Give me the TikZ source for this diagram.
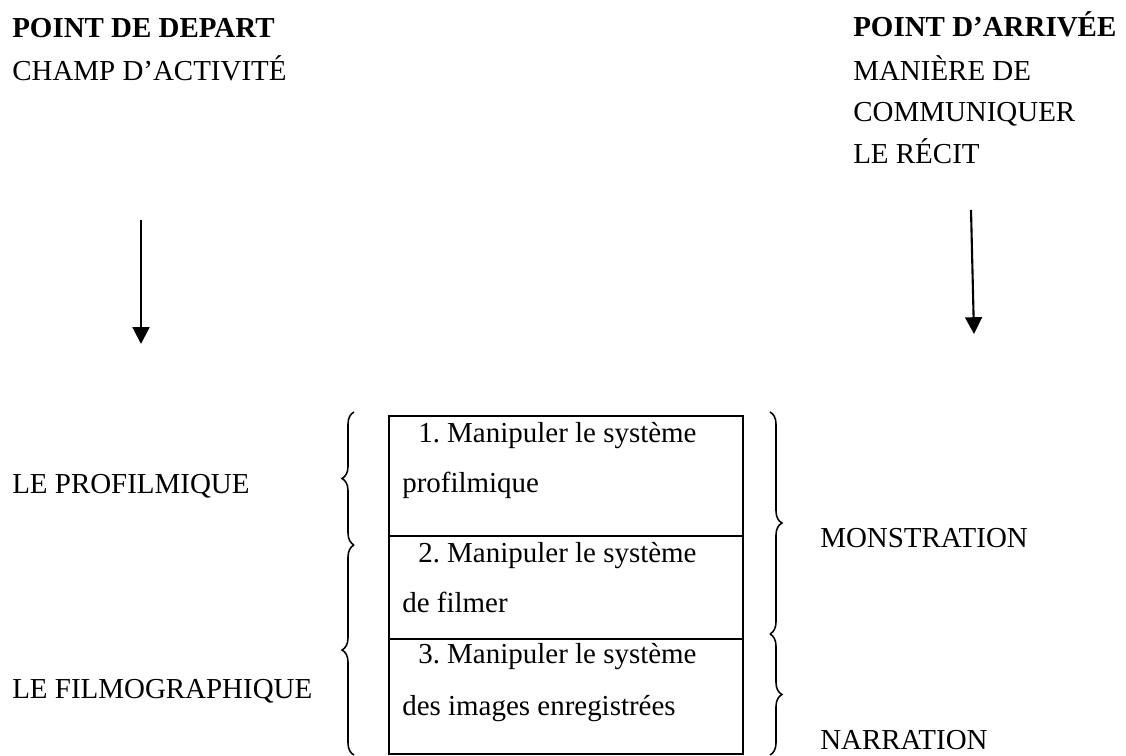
\documentclass[tikz,border=0pt]{standalone}
\usepackage{fontspec}
\setmainfont{Liberation Serif}
\usetikzlibrary{arrows.meta, decorations.pathreplacing}
\frenchspacing

\begin{document}
\begin{tikzpicture}[
      every node/.style={font=\fontsize{20.6}{25}\selectfont},
      lbl/.style={anchor=base west, inner sep=0pt},
      head/.style={lbl, font=\fontsize{20.6}{25}\selectfont\bfseries},
      cell/.style={draw, line width=1.2pt, anchor=north west, inner sep=0pt,
                   minimum width=8.85cm},
      arr/.style={-{Triangle[length=0.42cm, width=0.42cm]}, line width=1.5pt},
      brc/.style={decorate, decoration={brace, amplitude=0.3cm}, line width=1.1pt}
    ]
      \useasboundingbox (0,0) rectangle (28.15,-18.875);

      % departure side
      \node[head] (dep) at (0.3,-0.925) {POINT DE DEPART};
      \node[lbl] (champ) at (0.3,-2.0) {CHAMP D’ACTIVITÉ};

      % arrival side
      \node[head] (arr) at (21.325,-0.9) {POINT D’ARRIVÉE};
      \node[lbl] (man) at (21.325,-2.0) {MANIÈRE DE};
      \node[lbl] (comm) at (21.325,-3.025) {COMMUNIQUER};
      \node[lbl] (recit) at (21.325,-4.075) {LE RÉCIT};

      \coordinate (la_top) at (3.525,-5.5);
      \coordinate (la_bot) at (3.525,-8.6);
      \coordinate (ra_top) at (24.275,-5.25);
      \coordinate (ra_bot) at (24.35,-8.35);
      \draw[arr] (la_top) -- (la_bot);
      \draw[arr] (ra_top) -- (ra_bot);

      % the three cells
      \node[cell, minimum height=3.0cm] (c1) at (9.7,-10.375) {};
      \node[cell, minimum height=2.575cm] (c2) at (9.7,-13.375) {};
      \node[cell, minimum height=2.875cm] (c3) at (9.7,-15.95) {};

      \node[lbl] (t1a) at (10.45,-11.05) {1. Manipuler le système};
      \node[lbl] (t1b) at (10.05,-12.3) {profilmique};
      \node[lbl] (t2a) at (10.45,-14.05) {2. Manipuler le système};
      \node[lbl] (t2b) at (10.05,-15.3) {de filmer};
      \node[lbl] (t3a) at (10.45,-16.575) {3. Manipuler le système};
      \node[lbl] (t3b) at (10.05,-17.875) {des images enregistrées};

      % left braces
      \node[lbl] (profil) at (0.3,-12.325) {LE PROFILMIQUE};
      \node[lbl] (filmo) at (0.3,-17.45) {LE FILMOGRAPHIQUE};
      \coordinate (lb1t) at (8.85,-10.3);
      \coordinate (lb1b) at (8.85,-13.625);
      \coordinate (lb2b) at (8.85,-18.875);
      \draw[brc] (lb1b) -- (lb1t);
      \draw[brc] (lb2b) -- (lb1b);

      % right braces
      \node[lbl] (mon) at (20.5,-13.675) {MONSTRATION};
      \node[lbl] (nar) at (20.5,-18.725) {NARRATION};
      \coordinate (rb1t) at (19.25,-10.3);
      \coordinate (rb1b) at (19.25,-15.85);
      \coordinate (rb2b) at (19.25,-18.875);
      \draw[brc] (rb1t) -- (rb1b);
      \draw[brc] (rb1b) -- (rb2b);
    \end{tikzpicture}
\end{document}
